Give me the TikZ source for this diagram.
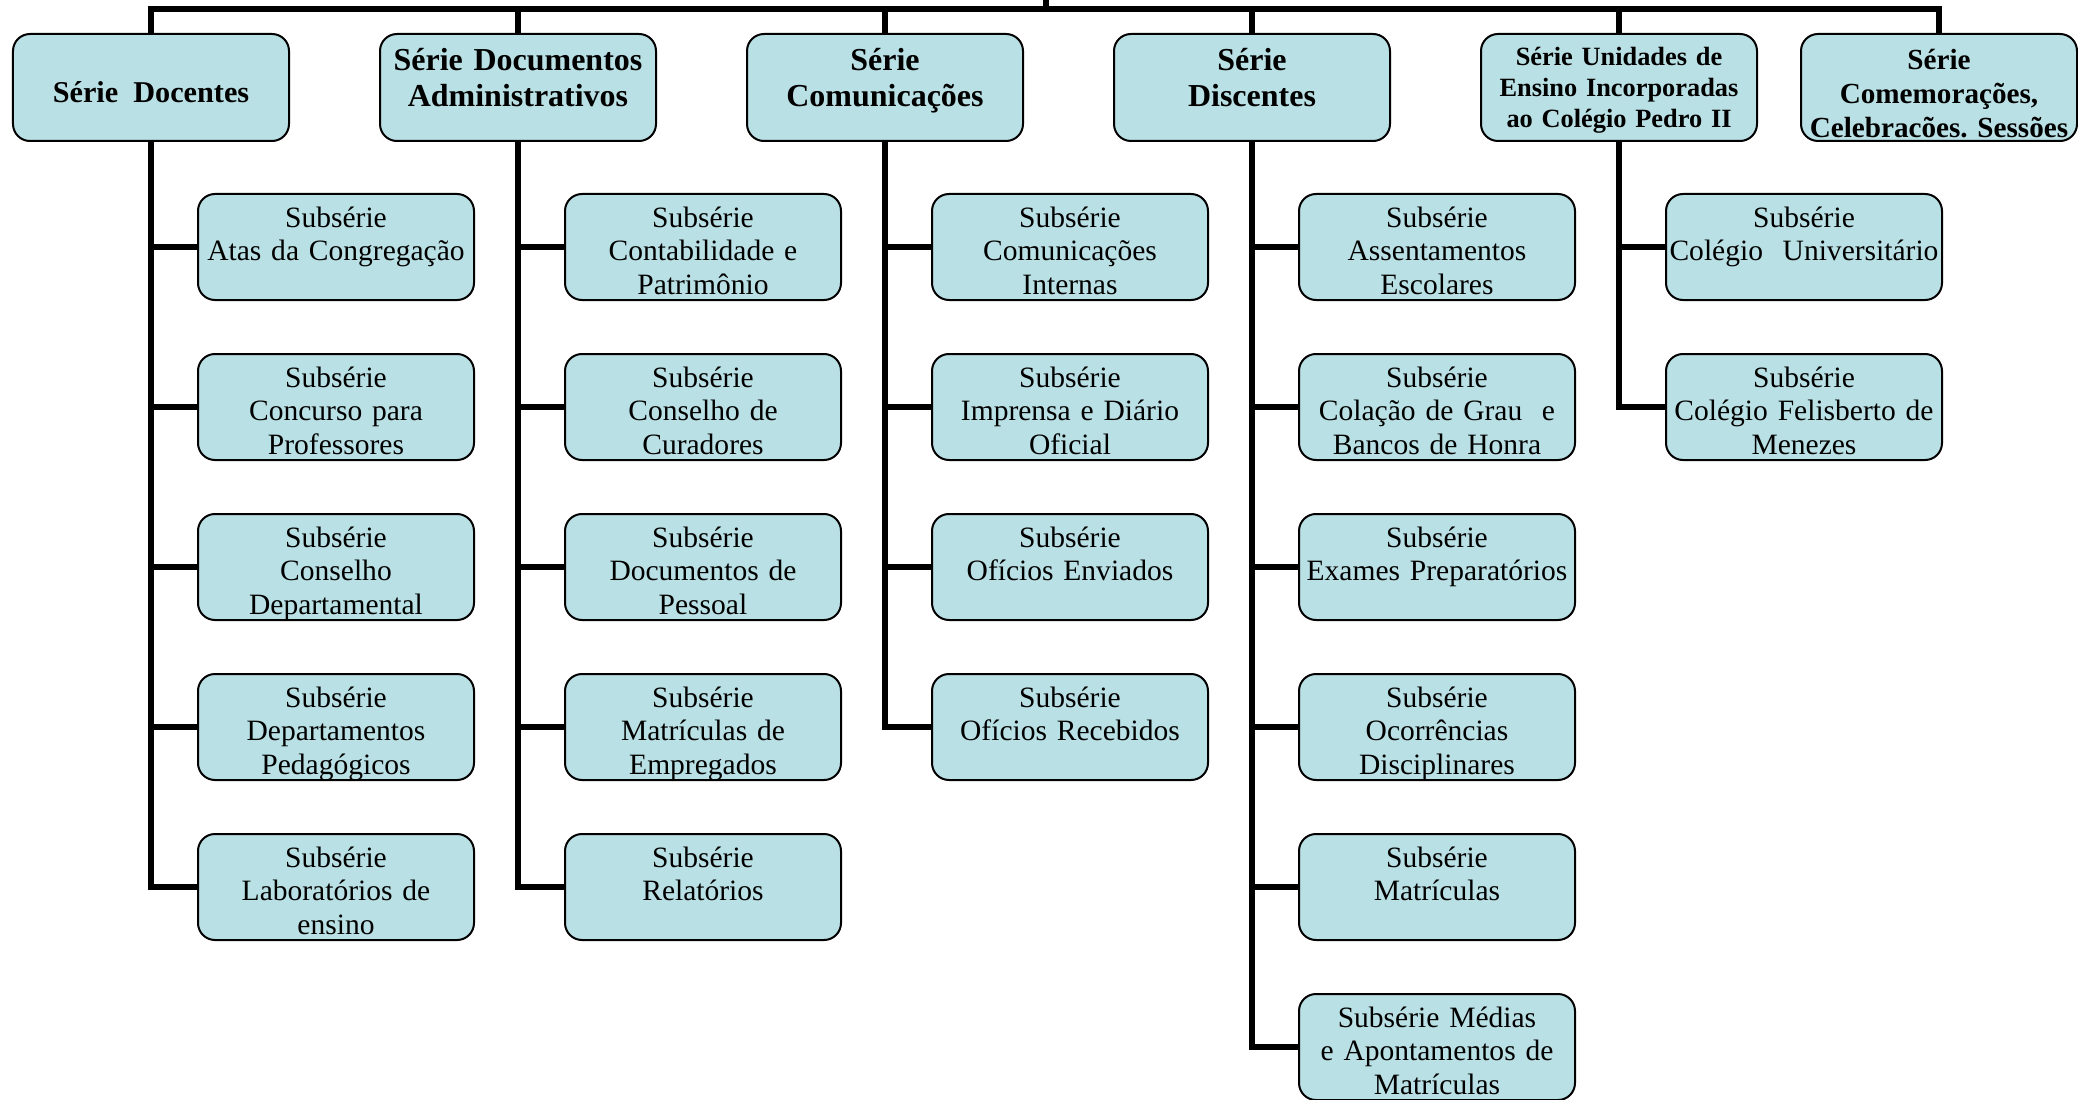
\documentclass[tikz,border=0pt]{standalone}
\usepackage{fontspec}
\setmainfont{Liberation Serif}
\usepackage{tikz}
\usetikzlibrary{positioning}
\definecolor{boxblue}{RGB}{185,224,228}
\frenchspacing

\begin{document}
\begin{tikzpicture}[
  box/.style={draw=black, line width=0.02cm, fill=boxblue, rounded corners=0.17cm,
    text width=2.76cm, align=center, inner xsep=0pt, inner ysep=0pt},
  serie/.style={box, font=\bfseries\fontsize{9.1}{10}\selectfont, text height=0.37cm, text depth=0.70cm},
  subserie/.style={box, font=\fontsize{8.4}{9.5}\selectfont, text height=0.335cm, text depth=0.725cm},
  conn/.style={line width=0.06cm}
]
\useasboundingbox (0,0) rectangle (20.78,-11.00);

\node[serie, font=\bfseries\fontsize{8.6}{10}\selectfont, text height=0.69cm, text depth=0.38cm] at (1.51,-0.875) (topA) {Série\hspace{0.5em}Docentes};
\node[serie] at (5.18,-0.875) (topB) {Série Documentos\\Administrativos};
\node[serie] at (8.85,-0.875) (topC) {Série\\Comunicações};
\node[serie] at (12.52,-0.875) (topD) {Série\\Discentes};
\node[serie, font=\bfseries\fontsize{7.5}{8.7}\selectfont, text height=0.32cm, text depth=0.75cm] at (16.19,-0.875) (topE) {Série Unidades de\\Ensino Incorporadas\\ao Colégio Pedro II};
\node[serie, font=\bfseries\fontsize{8.3}{9.6}\selectfont, text height=0.36cm, text depth=0.71cm] at (19.39,-0.875) (topF) {Série\\Comemorações,\\Celebracões. Sessões};

\coordinate (root) at (10.46,0);
\coordinate (bar) at (10.46,-0.095);

\node[subserie] at (3.36,-2.47) (subA1) {Subsérie\\Atas da Congregação};
\node[subserie] at (3.36,-4.07) (subA2) {Subsérie\\Concurso para\\Professores};
\node[subserie] at (3.36,-5.67) (subA3) {Subsérie\\Conselho\\Departamental};
\node[subserie] at (3.36,-7.27) (subA4) {Subsérie\\Departamentos\\Pedagógicos};
\node[subserie] at (3.36,-8.87) (subA5) {Subsérie\\Laboratórios de\\ensino};

\node[subserie] at (7.03,-2.47) (subB1) {Subsérie\\Contabilidade e\\Patrimônio};
\node[subserie] at (7.03,-4.07) (subB2) {Subsérie\\Conselho de\\Curadores};
\node[subserie] at (7.03,-5.67) (subB3) {Subsérie\\Documentos de\\Pessoal};
\node[subserie] at (7.03,-7.27) (subB4) {Subsérie\\Matrículas de\\Empregados};
\node[subserie] at (7.03,-8.87) (subB5) {Subsérie\\Relatórios};

\node[subserie] at (10.70,-2.47) (subC1) {Subsérie\\Comunicações\\Internas};
\node[subserie] at (10.70,-4.07) (subC2) {Subsérie\\Imprensa e Diário\\Oficial};
\node[subserie] at (10.70,-5.67) (subC3) {Subsérie\\Ofícios Enviados};
\node[subserie] at (10.70,-7.27) (subC4) {Subsérie\\Ofícios Recebidos};

\node[subserie] at (14.37,-2.47) (subD1) {Subsérie\\Assentamentos\\Escolares};
\node[subserie] at (14.37,-4.07) (subD2) {Subsérie\\Colação de Grau~ e\\Bancos de Honra};
\node[subserie] at (14.37,-5.67) (subD3) {Subsérie\\Exames Preparatórios};
\node[subserie] at (14.37,-7.27) (subD4) {Subsérie\\Ocorrências\\Disciplinares};
\node[subserie] at (14.37,-8.87) (subD5) {Subsérie\\Matrículas};
\node[subserie] at (14.37,-10.47) (subD6) {Subsérie Médias\\e Apontamentos de\\Matrículas};

\node[subserie] at (18.04,-2.47) (subE1) {Subsérie\\Colégio~ Universitário};
\node[subserie] at (18.04,-4.07) (subE2) {Subsérie\\Colégio Felisberto de\\Menezes};

% barra superior
\draw[conn] (topA.north) -- (topA.north |- bar) -- (topF.north |- bar) -- (topF.north);
\draw[conn] (root) -- (bar);
\draw[conn] (topB.north) -- (topB.north |- bar);
\draw[conn] (topC.north) -- (topC.north |- bar);
\draw[conn] (topD.north) -- (topD.north |- bar);
\draw[conn] (topE.north) -- (topE.north |- bar);

% subseries
\draw[conn] (topA.south) |- (subA1.west);
\draw[conn] (topA.south) |- (subA2.west);
\draw[conn] (topA.south) |- (subA3.west);
\draw[conn] (topA.south) |- (subA4.west);
\draw[conn] (topA.south) |- (subA5.west);

\draw[conn] (topB.south) |- (subB1.west);
\draw[conn] (topB.south) |- (subB2.west);
\draw[conn] (topB.south) |- (subB3.west);
\draw[conn] (topB.south) |- (subB4.west);
\draw[conn] (topB.south) |- (subB5.west);

\draw[conn] (topC.south) |- (subC1.west);
\draw[conn] (topC.south) |- (subC2.west);
\draw[conn] (topC.south) |- (subC3.west);
\draw[conn] (topC.south) |- (subC4.west);

\draw[conn] (topD.south) |- (subD1.west);
\draw[conn] (topD.south) |- (subD2.west);
\draw[conn] (topD.south) |- (subD3.west);
\draw[conn] (topD.south) |- (subD4.west);
\draw[conn] (topD.south) |- (subD5.west);
\draw[conn] (topD.south) |- (subD6.west);

\draw[conn] (topE.south) |- (subE1.west);
\draw[conn] (topE.south) |- (subE2.west);

\end{tikzpicture}
\end{document}
